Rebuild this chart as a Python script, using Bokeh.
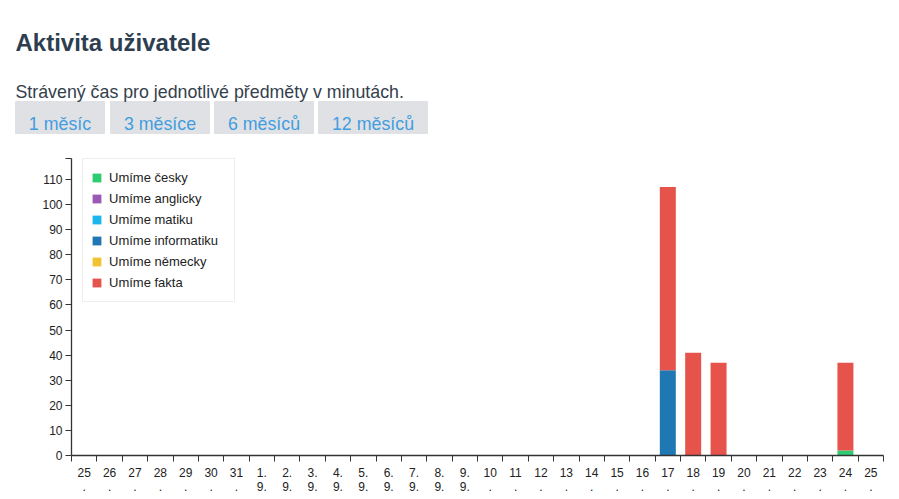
from bokeh.plotting import figure
from bokeh.layouts import column
from bokeh.models import Range1d, FixedTicker, CustomJSTickFormatter, ColumnDataSource
from bokeh.core.properties import value
from bokeh.embed import file_html
from bokeh.resources import INLINE

# ---- data -------------------------------------------------------------
days = ["25.8.", "26.8.", "27.8.", "28.8.", "29.8.", "30.8.", "31.8.",
        "1.9.", "2.9.", "3.9.", "4.9.", "5.9.", "6.9.", "7.9.", "8.9.", "9.9.",
        "10.9.", "11.9.", "12.9.", "13.9.", "14.9.", "15.9.", "16.9.", "17.9.",
        "18.9.", "19.9.", "20.9.", "21.9.", "22.9.", "23.9.", "24.9.", "25.9."]
tick_labels = ["25\n.", "26\n.", "27\n.", "28\n.", "29\n.", "30\n.", "31\n.",
               "1.\n9.", "2.\n9.", "3.\n9.", "4.\n9.", "5.\n9.", "6.\n9.", "7.\n9.", "8.\n9.", "9.\n9.",
               "10\n.", "11\n.", "12\n.", "13\n.", "14\n.", "15\n.", "16\n.", "17\n.",
               "18\n.", "19\n.", "20\n.", "21\n.", "22\n.", "23\n.", "24\n.", "25\n."]
subjects = ["Umíme česky", "Umíme anglicky", "Umíme matiku",
            "Umíme informatiku", "Umíme německy", "Umíme fakta"]
keys = ["cesky", "anglicky", "matika", "informatika", "nemecky", "fakta"]
colors = ["#2ecc71", "#9b59b6", "#1cb6ef", "#1f77b4", "#f1c232", "#e5534b"]

cesky       = [0, 0, 0, 0, 0, 0, 0, 0, 0, 0, 0, 0, 0, 0, 0, 0,
               0, 0, 0, 0, 0, 0, 0, 0, 0, 0, 0, 0, 0, 0, 2, 0]
anglicky    = [0, 0, 0, 0, 0, 0, 0, 0, 0, 0, 0, 0, 0, 0, 0, 0,
               0, 0, 0, 0, 0, 0, 0, 0, 0, 0, 0, 0, 0, 0, 0, 0]
matika      = [0, 0, 0, 0, 0, 0, 0, 0, 0, 0, 0, 0, 0, 0, 0, 0,
               0, 0, 0, 0, 0, 0, 0, 0, 0, 0, 0, 0, 0, 0, 0, 0]
informatika = [0, 0, 0, 0, 0, 0, 0, 0, 0, 0, 0, 0, 0, 0, 0, 0,
               0, 0, 0, 0, 0, 0, 0, 34, 0, 0, 0, 0, 0, 0, 0, 0]
nemecky     = [0, 0, 0, 0, 0, 0, 0, 0, 0, 0, 0, 0, 0, 0, 0, 0,
               0, 0, 0, 0, 0, 0, 0, 0, 0, 0, 0, 0, 0, 0, 0, 0]
fakta       = [0, 0, 0, 0, 0, 0, 0, 0, 0, 0, 0, 0, 0, 0, 0, 0,
               0, 0, 0, 0, 0, 0, 0, 73, 41, 37, 0, 0, 0, 0, 35, 0]

y_ticks = [0, 10, 20, 30, 40, 50, 60, 70, 80, 90, 100, 110]
y_max = 118.4

title_text = "Aktivita uživatele"
subtitle_text = "Strávený čas pro jednotlivé předměty v minutách."
buttons = ["1 měsíc", "3 měsíce", "6 měsíců", "12 měsíců"]

FONT = "Liberation Sans"
W, HEAD_H, TOTAL_H = 899, 158, 499

# ---- header (pixel-space figure) --------------------------------------
head = figure(width=W, height=HEAD_H, x_range=Range1d(0, W), y_range=Range1d(HEAD_H, 0),
              output_backend="svg", toolbar_location=None,
              x_axis_location=None, y_axis_location=None,
              min_border_left=0, min_border_right=0, min_border_top=0, min_border_bottom=0)
head.frame_align = False
head.outline_line_color = None
head.grid.grid_line_color = None
head.border_fill_color = "white"
head.background_fill_color = "white"

btn_left = [15, 110, 214, 318]
btn_right = [104, 209, 313, 427]
head.quad(left=btn_left, right=btn_right, top=[101] * 4, bottom=[133] * 4,
          fill_color="#e0e1e4", line_color="#e0e1e4", line_width=1)
head.text(x=[15], y=[42], text=[title_text], text_font=value(FONT),
          text_font_style="bold", text_font_size="24px", text_color="#2c3e50",
          text_baseline="alphabetic")
head.text(x=[15], y=[91], text=[subtitle_text], text_font=value(FONT),
          text_font_size="17.8px", text_color="#34404c", text_baseline="alphabetic")
head.text(x=[(l + r) / 2 for l, r in zip(btn_left, btn_right)], y=[123] * 4,
          text=buttons, text_font=value(FONT), text_font_size="17.8px",
          text_color="#429de0", text_align="center", text_baseline="alphabetic")

# ---- chart ------------------------------------------------------------
n = len(days)
centres = [i + 0.5 for i in range(n)]  # band centres on a 0..n band scale
source = ColumnDataSource(dict(x=centres, day=days, cesky=cesky, anglicky=anglicky,
                               matika=matika, informatika=informatika,
                               nemecky=nemecky, fakta=fakta))

p = figure(width=W, height=TOTAL_H - HEAD_H, x_range=Range1d(0, n),
           y_range=Range1d(0, y_max), output_backend="svg", toolbar_location=None,
           min_border_left=71, min_border_right=16,
           min_border_top=0, min_border_bottom=44)
p.frame_align = False
p.outline_line_color = None
p.grid.grid_line_color = None
p.background_fill_color = "white"
p.border_fill_color = "white"

p.vbar_stack(keys, x="x", width=0.63, color=colors, source=source,
             legend_label=subjects, line_width=0)

ya = p.yaxis[0]
ya.ticker = FixedTicker(ticks=y_ticks, minor_ticks=[y_max])

xa = p.xaxis[0]
xa.ticker = FixedTicker(ticks=centres, minor_ticks=list(range(n + 1)))
xa.formatter = CustomJSTickFormatter(args=dict(labels=tick_labels),
                                     code="return labels[Math.floor(tick)];")

for ax in [ya, xa]:
    ax.axis_line_color = "#333333"
    ax.axis_line_width = 1.3
    ax.major_tick_line_color = "#333333"
    ax.minor_tick_line_color = "#333333"
    ax.major_tick_out = 6
    ax.major_tick_in = 0
    ax.minor_tick_out = 6
    ax.minor_tick_in = 0
    ax.major_label_text_font = FONT
    ax.major_label_text_font_size = "12px"
    ax.major_label_text_color = "#222222"
    ax.major_label_standoff = 3
xa.major_tick_line_color = None
xa.major_label_standoff = 4
xa.major_label_text_line_height = 1.0

# legend
lg = p.legend[0]
lg.location = (11, 153)
lg.padding = 8
lg.spacing = 0
lg.margin = 0
lg.glyph_width = 11
lg.glyph_height = 11
lg.label_height = 21
lg.label_width = 117
lg.label_standoff = 7
lg.label_text_font = FONT
lg.label_text_font_size = "13px"
lg.label_text_color = "#222222"
lg.border_line_color = "#dddddd"
lg.border_line_width = 1
lg.background_fill_alpha = 1

layout = column(head, p, spacing=0)
open("out.html", "w").write(file_html(layout, INLINE))
